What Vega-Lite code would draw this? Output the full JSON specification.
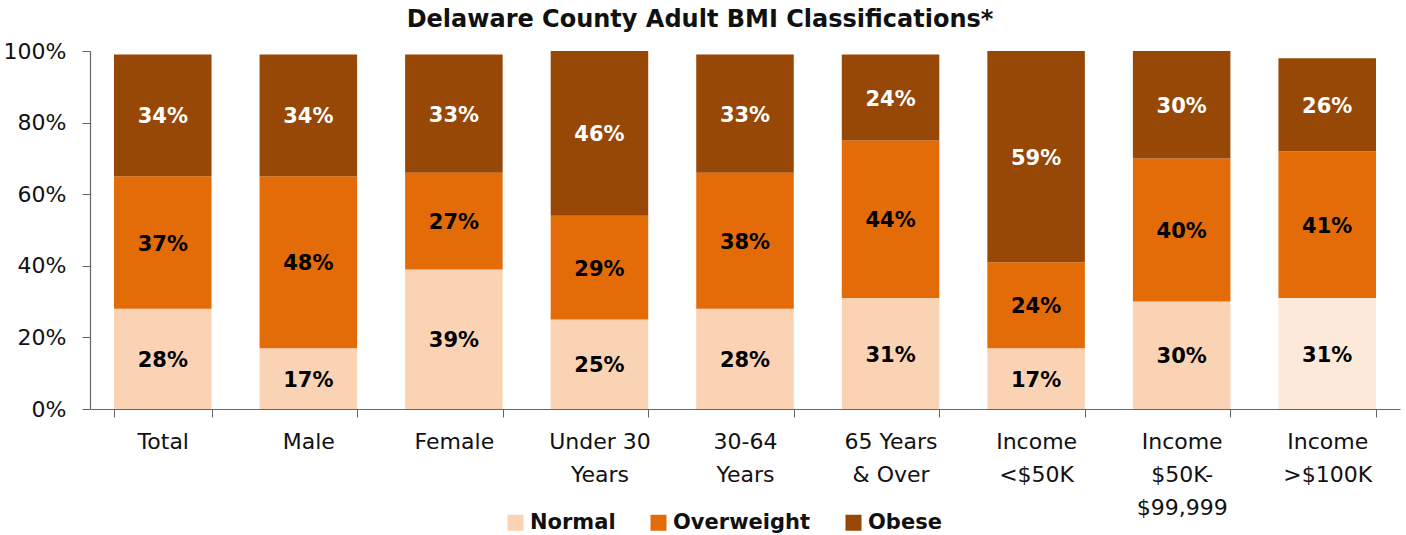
{
  "$schema": "https://vega.github.io/schema/vega-lite/v6.json",
  "width": 1310,
  "height": 358,
  "autosize": {"type": "none"},
  "padding": {"left": 90, "top": 51, "right": 6, "bottom": 126},
  "background": "white",
  "config": {"view": {"stroke": null}, "font": "DejaVu Sans"},
  "title": {
    "text": "Delaware County Adult BMI Classifications*",
    "font": "DejaVu Sans", "fontSize": 24, "fontWeight": "bold", "color": "#111",
    "anchor": "middle", "frame": "group", "dx": -45, "offset": 8
  },
  "data": {
    "values": [
      {"g": "Total", "c": "Normal", "o": 1, "v": 28},
      {"g": "Total", "c": "Overweight", "o": 2, "v": 37},
      {"g": "Total", "c": "Obese", "o": 3, "v": 34},
      {"g": "Male", "c": "Normal", "o": 1, "v": 17},
      {"g": "Male", "c": "Overweight", "o": 2, "v": 48},
      {"g": "Male", "c": "Obese", "o": 3, "v": 34},
      {"g": "Female", "c": "Normal", "o": 1, "v": 39},
      {"g": "Female", "c": "Overweight", "o": 2, "v": 27},
      {"g": "Female", "c": "Obese", "o": 3, "v": 33},
      {"g": "Under 30|Years", "c": "Normal", "o": 1, "v": 25},
      {"g": "Under 30|Years", "c": "Overweight", "o": 2, "v": 29},
      {"g": "Under 30|Years", "c": "Obese", "o": 3, "v": 46},
      {"g": "30-64|Years", "c": "Normal", "o": 1, "v": 28},
      {"g": "30-64|Years", "c": "Overweight", "o": 2, "v": 38},
      {"g": "30-64|Years", "c": "Obese", "o": 3, "v": 33},
      {"g": "65 Years|& Over", "c": "Normal", "o": 1, "v": 31},
      {"g": "65 Years|& Over", "c": "Overweight", "o": 2, "v": 44},
      {"g": "65 Years|& Over", "c": "Obese", "o": 3, "v": 24},
      {"g": "Income|<$50K", "c": "Normal", "o": 1, "v": 17},
      {"g": "Income|<$50K", "c": "Overweight", "o": 2, "v": 24},
      {"g": "Income|<$50K", "c": "Obese", "o": 3, "v": 59},
      {"g": "Income|$50K-|$99,999", "c": "Normal", "o": 1, "v": 30},
      {"g": "Income|$50K-|$99,999", "c": "Overweight", "o": 2, "v": 40},
      {"g": "Income|$50K-|$99,999", "c": "Obese", "o": 3, "v": 30},
      {"g": "Income|>$100K", "c": "Normal", "o": 1, "v": 31},
      {"g": "Income|>$100K", "c": "Overweight", "o": 2, "v": 41},
      {"g": "Income|>$100K", "c": "Obese", "o": 3, "v": 26}
    ]
  },
  "transform": [
    {"stack": "v", "groupby": ["g"], "sort": [{"field": "o", "order": "ascending"}], "as": ["v0", "v1"]},
    {"calculate": "(datum.v0 + datum.v1) / 2", "as": "vm"},
    {"calculate": "datum.v + '%'", "as": "lab"}
  ],
  "encoding": {
    "x": {
      "field": "g", "type": "nominal", "sort": null,
      "scale": {"paddingInner": 0.33, "paddingOuter": 0.165},
      "axis": {
        "title": null, "labelAngle": 0, "labelExpr": "split(datum.label, '|')",
        "labelFont": "DejaVu Sans", "labelFontSize": 22, "labelColor": "#111",
        "labelLineHeight": 33, "labelPadding": 14, "labelBaseline": "top",
        "tickBand": "extent", "tickSize": 8, "tickColor": "#666", "domainColor": "#666", "domainWidth": 1.2
      }
    }
  },
  "layer": [
    {
      "mark": {"type": "bar"},
      "encoding": {
        "y": {
          "field": "v0", "type": "quantitative",
          "scale": {"domain": [0, 100]},
          "axis": {
            "title": null, "values": [0, 20, 40, 60, 80, 100], "grid": false,
            "labelExpr": "datum.value + '%'", "labelFont": "DejaVu Sans", "labelFontSize": 22,
            "labelColor": "#111", "labelPadding": 16, "tickSize": 8, "tickColor": "#666",
            "domainColor": "#666", "domainWidth": 1.2
          }
        },
        "y2": {"field": "v1"},
        "color": {
          "condition": {"test": "datum.g === 'Income|>$100K' && datum.c === 'Normal'", "value": "#FCE9DA"},
          "field": "c", "type": "nominal",
          "scale": {"domain": ["Normal", "Overweight", "Obese"], "range": ["#FAD3B5", "#E36C09", "#974706"]},
          "legend": {
            "title": null, "orient": "none", "direction": "horizontal",
            "legendX": 415, "legendY": 461,
            "symbolType": "square", "symbolSize": 256, "symbolStrokeWidth": 0,
            "labelFont": "DejaVu Sans", "labelFontSize": 21, "labelFontWeight": "bold", "labelColor": "#111",
            "labelOffset": 4, "columnPadding": 32
          }
        }
      }
    },
    {
      "mark": {"type": "text", "font": "DejaVu Sans", "fontSize": 21, "fontWeight": "bold", "baseline": "middle", "dy": 2},
      "encoding": {
        "y": {"field": "vm", "type": "quantitative"},
        "text": {"field": "lab", "type": "nominal"},
        "color": {
          "condition": {"test": "datum.c === 'Obese'", "value": "white"},
          "value": "black"
        }
      }
    }
  ]
}
